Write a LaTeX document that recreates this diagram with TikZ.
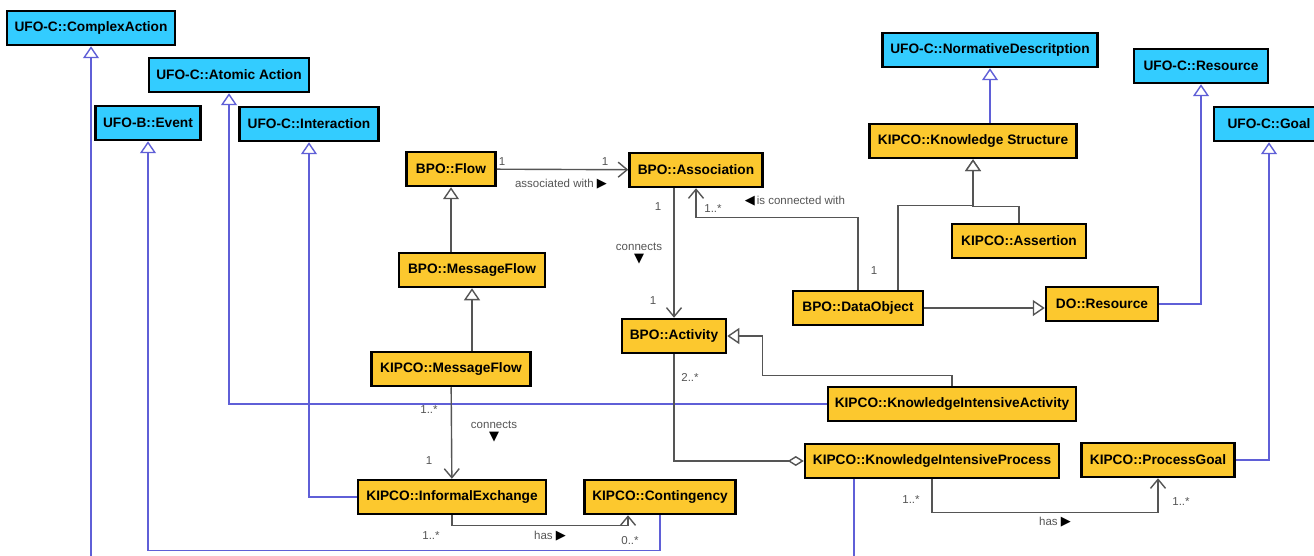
\documentclass[tikz,border=0pt]{standalone}
\usepackage{fontspec}
\setmainfont{Liberation Sans}
\newfontfamily\glyphfont{DejaVu Sans}
\usetikzlibrary{arrows.meta}

\definecolor{kipcoyellow}{RGB}{252,200,46}
\definecolor{ufoblue}{RGB}{51,204,255}
\definecolor{linkgrey}{RGB}{85,85,85}
\definecolor{linkblue}{RGB}{95,95,215}

% reading direction marks next to the association names
\newcommand{\dirright}{{\glyphfont\fontsize{13}{13}\selectfont\color{black}▶}}
\newcommand{\dirleft}{{\glyphfont\fontsize{13}{13}\selectfont\color{black}◀}}
\newcommand{\dirdown}{{\glyphfont\fontsize{13}{13}\selectfont\color{black}▼}}

\begin{document}
\begin{tikzpicture}[ % one unit is one pixel, y grows downwards
x=1pt, y=-1pt,
class_box/.style={rectangle, draw=black, line width=2.5pt, inner sep=2pt, minimum height=34pt, font=\fontsize{13.7}{16}\selectfont\bfseries},
ufo_box/.style={class_box, fill=ufoblue},
kipco_box/.style={class_box, fill=kipcoyellow},
mult_text/.style={inner sep=0pt, text=linkgrey, font=\fontsize{11.5}{13}\selectfont},
gen_arrow/.style={draw=linkgrey, line width=1.4pt, -{Triangle[fill=white, length=12pt, width=16pt]}},
gen_blue/.style={gen_arrow, draw=linkblue},
nav_arrow/.style={draw=linkgrey, line width=1.4pt, -{Straight Barb[length=9pt, width=15pt]}},
agg_line/.style={draw=linkgrey, line width=1.4pt, -{Diamond[fill=white, length=16pt, width=10pt]}}
]
\useasboundingbox[fill=white] (0,0) rectangle (1314,556);

% UFO classes
\node[ufo_box, minimum width=168pt](complex_action) at (91,28) {UFO-C::ComplexAction};
\node[ufo_box, minimum width=160pt](atomic_action) at (229,75) {UFO-C::Atomic Action};
\node[ufo_box, minimum width=105pt](event) at (148,123) {UFO-B::Event};
\node[ufo_box, minimum width=139pt](interaction) at (309,124) {UFO-C::Interaction};
\node[ufo_box, minimum width=215pt](normative_description) at (990,50) {UFO-C::NormativeDescritption};
\node[ufo_box, minimum width=134pt](ufo_resource) at (1201,66) {UFO-C::Resource};
\node[ufo_box, minimum width=110pt](ufo_goal) at (1269,124) {UFO-C::Goal};

% BPO / KIPCO / DO classes
\node[kipco_box, minimum width=89pt](flow) at (451,169) {BPO::Flow};
\node[kipco_box, minimum width=133pt](association) at (696,170) {BPO::Association};
\node[kipco_box, minimum width=146pt](message_flow) at (472,270) {BPO::MessageFlow};
\node[kipco_box, minimum width=159pt](kipco_message_flow) at (451,369) {KIPCO::MessageFlow};
\node[kipco_box, minimum width=104pt](activity) at (674,336) {BPO::Activity};
\node[kipco_box, minimum width=130pt](data_object) at (858,308) {BPO::DataObject};
\node[kipco_box, minimum width=112pt](do_resource) at (1102,304) {DO::Resource};
\node[kipco_box, minimum width=207pt](knowledge_structure) at (973,141) {KIPCO::Knowledge Structure};
\node[kipco_box, minimum width=134pt](assertion) at (1019,241) {KIPCO::Assertion};
\node[kipco_box, minimum width=248pt](kia) at (952,404) {KIPCO::KnowledgeIntensiveActivity};
\node[kipco_box, minimum width=254pt](kip) at (932,461) {KIPCO::KnowledgeIntensiveProcess};
\node[kipco_box, minimum width=153pt](process_goal) at (1158,460) {KIPCO::ProcessGoal};
\node[kipco_box, minimum width=188pt](informal_exchange) at (452,497) {KIPCO::InformalExchange};
\node[kipco_box, minimum width=151pt](contingency) at (660,497) {KIPCO::Contingency};

% specialisation of UFO concepts
\draw[gen_blue]([xshift=-78pt]kip.south) -- ++(0,90) -| (complex_action);
\draw[gen_blue](contingency.south) -- ++(0,35) -| (event);
\draw[gen_blue](kia) -| (atomic_action);
\draw[gen_blue](informal_exchange) -| (interaction);
\draw[gen_blue](knowledge_structure.north -| normative_description) -- (normative_description);
\draw[gen_blue](do_resource) -| (ufo_resource);
\draw[gen_blue](process_goal) -| (ufo_goal);

% specialisation inside the process ontologies
\draw[gen_arrow](message_flow.north -| flow) -- (flow);
\draw[gen_arrow](kipco_message_flow.north -| message_flow) -- (message_flow);
\draw[gen_arrow]([xshift=40pt]data_object.north) -- ++(0,-84) -| (knowledge_structure);
\draw[gen_arrow](assertion.north) -- ++(0,-16) -| (knowledge_structure);
\draw[gen_arrow](data_object.east) -- (do_resource.west |- data_object.east);
\draw[gen_arrow](kia.north) -- ++(0,-10) -| ([xshift=35pt]activity.east) -- (activity.east);

% associations
\draw[nav_arrow](flow) -- (association);
\draw[nav_arrow](association.south -| activity) -- (activity);
\draw[nav_arrow](data_object.north) -- ++(0,-72) -| (association);
\draw[nav_arrow](kipco_message_flow) -- (informal_exchange);
\draw[nav_arrow](informal_exchange.south) -- ++(0,10) -| ([xshift=-32pt]contingency.south);
\draw[nav_arrow](kip.south) -- ++(0,33) -| (process_goal);
\draw[agg_line](activity.south) |- (kip.west);

% multiplicities and association names
\node[mult_text](flow_one) at (502,162) {1};
\node[mult_text](assoc_one) at (605,162) {1};
\node[mult_text](associated_with) at (561,184) {associated with \dirright};
\node[mult_text](assoc_act_one) at (658,207) {1};
\node[mult_text, align=center](connects_activity) at (639,254) {connects\\[-1pt]\dirdown};
\node[mult_text](act_one) at (653,301) {1};
\node[mult_text](dobj_many) at (713,209) {1..*};
\node[mult_text](connected_with) at (795,201) {\dirleft\,is connected with};
\node[mult_text](dobj_one) at (874,271) {1};
\node[mult_text](act_many) at (690,377) {2..*};
\node[mult_text](kmf_many) at (429,410) {1..*};
\node[mult_text, align=center](connects_exchange) at (494,432) {connects\\[-1pt]\dirdown};
\node[mult_text](ie_one) at (429,461) {1};
\node[mult_text](ie_many) at (431,536) {1..*};
\node[mult_text](ie_has) at (550,536) {has \dirright};
\node[mult_text](cont_many) at (630,541) {0..*};
\node[mult_text](kip_many) at (911,500) {1..*};
\node[mult_text](kip_has) at (1055,522) {has \dirright};
\node[mult_text](goal_many) at (1181,502) {1..*};

\end{tikzpicture}
\end{document}
